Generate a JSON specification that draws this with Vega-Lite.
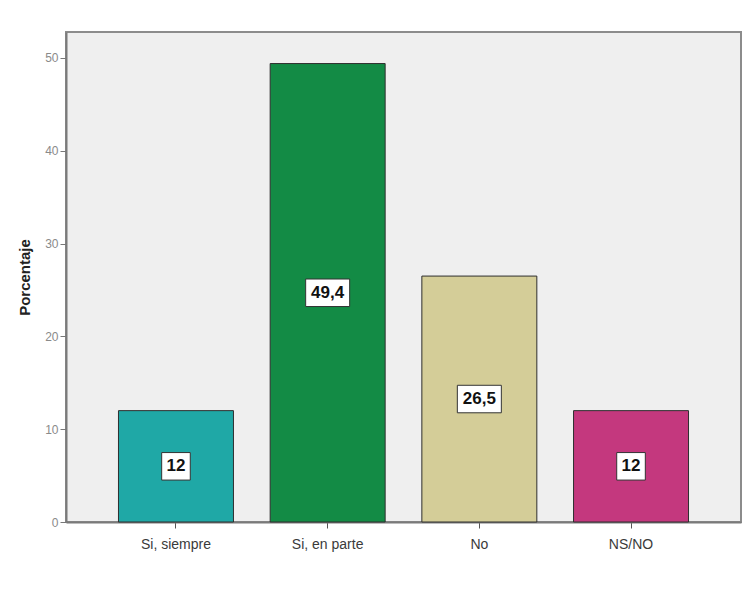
{
  "$schema": "https://vega.github.io/schema/vega-lite/v6.json",
  "autosize": "none",
  "width": 675,
  "height": 490,
  "padding": {"left": 66, "top": 32, "right": 11, "bottom": 81},
  "background": "#ffffff",
  "config": {
    "font": "Liberation Sans",
    "view": {"fill": "#efefef", "stroke": "#8c8c8c", "strokeWidth": 2}
  },
  "data": {
    "values": [
      {"respuesta": "Si, siempre", "porcentaje": 12, "etiqueta": "12"},
      {"respuesta": "Si, en parte", "porcentaje": 49.4, "etiqueta": "49,4"},
      {"respuesta": "No", "porcentaje": 26.5, "etiqueta": "26,5"},
      {"respuesta": "NS/NO", "porcentaje": 12, "etiqueta": "12"}
    ]
  },
  "transform": [{"calculate": "datum.porcentaje / 2", "as": "medio"}],
  "encoding": {
    "x": {
      "field": "respuesta",
      "type": "nominal",
      "sort": null,
      "scale": {"paddingInner": 0.242, "paddingOuter": 0.346},
      "axis": {
        "title": null,
        "labelAngle": 0,
        "labelFontSize": 14,
        "labelColor": "#3a3a3a",
        "labelPadding": 9,
        "tickSize": 6,
        "tickColor": "#555555",
        "domainColor": "#7a7a7a",
        "domainWidth": 2
      }
    }
  },
  "layer": [
    {
      "mark": {"type": "bar", "stroke": "#2e2e2e", "strokeWidth": 1},
      "encoding": {
        "y": {
          "field": "porcentaje",
          "type": "quantitative",
          "scale": {"domain": [0, 52.8], "nice": false},
          "axis": {
            "title": "Porcentaje",
            "titleFontWeight": "bold",
            "titleFontSize": 15,
            "titleColor": "#222222",
            "titleX": -34,
            "titleY": 245,
            "values": [0, 10, 20, 30, 40, 50],
            "grid": false,
            "labelFontSize": 12,
            "labelColor": "#8a8a8a",
            "labelPadding": 2,
            "tickSize": 6,
            "tickColor": "#777777",
            "domainColor": "#7a7a7a",
            "domainWidth": 2
          }
        },
        "color": {
          "field": "respuesta",
          "type": "nominal",
          "sort": null,
          "scale": {
            "domain": ["Si, siempre", "Si, en parte", "No", "NS/NO"],
            "range": ["#1fa8a6", "#138b45", "#d4cd98", "#c4387e"]
          },
          "legend": null
        }
      }
    },
    {
      "mark": {"type": "point", "filled": true, "fill": "#ffffff", "stroke": "#333333", "strokeWidth": 1, "opacity": 1, "size": 484},
      "encoding": {
        "y": {"field": "medio", "type": "quantitative"},
        "shape": {
          "condition": {"test": "length(datum.etiqueta) > 2", "value": "M-2.0,-1.25H2.0V1.25H-2.0Z"},
          "value": "M-1.3,-1.25H1.3V1.25H-1.3Z"
        }
      }
    },
    {
      "mark": {"type": "text", "fontSize": 17, "fontWeight": "bold", "color": "#111111", "baseline": "middle", "align": "center"},
      "encoding": {
        "y": {"field": "medio", "type": "quantitative"},
        "text": {"field": "etiqueta"}
      }
    }
  ]
}
